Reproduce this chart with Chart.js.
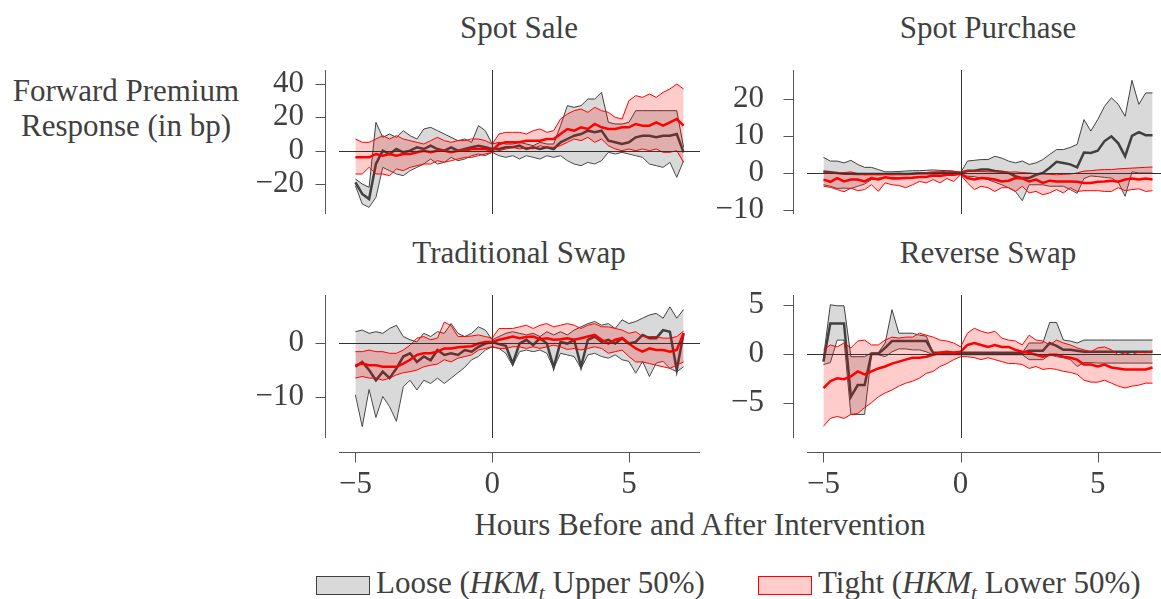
<!DOCTYPE html>
<html>
<head>
<meta charset="utf-8">
<script src="https://cdn.jsdelivr.net/npm/chart.js@4.4.1/dist/chart.umd.min.js"></script>
<style>
  body { margin: 0; width: 1161px; height: 599px; overflow: hidden; background: #fff;
         position: relative; font-family: "Liberation Serif", serif; color: #404040; }
  .txt { position: absolute; font-size: 31px; line-height: 31px; white-space: nowrap; }
  .ctr { text-align: center; }
  canvas { position: absolute; }
  .patch { position: absolute; width: 52px; height: 17px; }
  sub { font-size: 0.7em; line-height: 0; vertical-align: -0.3em; }
</style>
</head>
<body>

<div class="txt ctr" style="left:319px;top:12px;width:400px">Spot Sale</div>
<div class="txt ctr" style="left:788px;top:12px;width:400px">Spot Purchase</div>
<div class="txt ctr" style="left:319px;top:237px;width:400px">Traditional Swap</div>
<div class="txt ctr" style="left:788px;top:237px;width:400px">Reverse Swap</div>

<div class="txt ctr" style="left:0;top:75px;width:252px">Forward Premium</div>
<div class="txt ctr" style="left:0;top:110px;width:252px">Response (in bp)</div>

<div class="txt ctr" style="left:400px;top:509px;width:600px">Hours Before and After Intervention</div>

<div class="patch" style="left:316px;top:576px;background:#d9d9d9;border:1px solid #404040"></div>
<div class="txt" style="left:376px;top:567px">Loose (<i>HKM</i><sub><i>t</i></sub> Upper 50%)</div>
<div class="patch" style="left:758px;top:576px;background:#ffcccc;border:1px solid #ff0000"></div>
<div class="txt" style="left:818px;top:567px">Tight (<i>HKM</i><sub><i>t</i></sub> Lower 50%)</div>

<canvas id="saleChart" width="470" height="160" style="left:240px;top:60px"></canvas>
<canvas id="buyChart" width="480" height="160" style="left:700px;top:60px"></canvas>
<canvas id="tradChart" width="470" height="215" style="left:240px;top:285px"></canvas>
<canvas id="revChart" width="480" height="215" style="left:700px;top:285px"></canvas>

<script>
// ------------------- DATA -------------------
const hours = [-5,-4.75,-4.5,-4.25,-4,-3.75,-3.5,-3.25,-3,-2.75,-2.5,-2.25,-2,-1.75,-1.5,-1.25,-1,-0.75,-0.5,-0.25,
  0,0.25,0.5,0.75,1,1.25,1.5,1.75,2,2.25,2.5,2.75,3,3.25,3.5,3.75,4,4.25,4.5,4.75,5,5.25,5.5,5.75,6,6.25,6.5,6.75,7];
const xTicks = [-5, 0, 5];

// Spot Sale
const saleLoose   = [-19,-26,-29,-8,0,-2,1,-1,0,2,1,3,1,0,2,0,1,2,3,2, 1,
  1,2,2,3,1,2,1,2,1,5,7,9,10,12,11,12,6,5,4,5,8,9,9,8,9,9,10,-1];
const saleLooseUp = [-17,-20,-22,17,8,10,8,12,9,7,13,14,12,10,8,6,7,5,15,12, 4,
  5,4,4,5,4,3,5,4,4,15,27,26,27,31,31,35,17,16,16,17,24,24,24,24,24,24,24,2];
const saleLooseLo = [-21,-32,-34,-28,-10,-12,-14,-15,-12,-10,-8,-5,-8,-7,-4,-6,-5,-3,-2,-3, -1,
  -3,-4,-3,-5,-3,-4,-5,-3,-4,-3,-6,-8,-9,-7,-8,-6,-1,-2,-1,-2,-3,-4,-8,-9,-10,-7,-16,-6];
const saleTight   = [-4,-4,-4,-2,-3,-2,-3,-2,-2,-1,0,-1,0,0,-1,0,0,1,1,1, 0,
  4,5,5,5,6,6,6,7,7,10,13,12,14,13,16,14,13,13,14,14,16,15,15,17,15,17,19,15];
const saleTightUp = [7,5,5,7,9,7,9,7,6,5,4,6,8,6,5,6,6,7,7,6, 4,
  10,11,11,11,10,12,13,11,12,19,22,24,25,23,26,24,23,20,19,30,33,32,34,32,35,37,40,37];
const saleTightLo = [-14,-14,-10,-14,-14,-15,-11,-12,-10,-9,-8,-8,-6,-7,-6,-5,-4,-4,-3,-2, -1,
  0,1,2,1,2,1,3,2,2,3,5,7,6,8,5,7,3,1,0,1,0,1,0,1,-1,-1,0,-7];
const saleTicks = [-20, 0, 20, 40];

// Spot Purchase
const buyLoose   = [0.4,0.2,0,-0.2,-0.2,-0.3,-0.3,-0.3,-0.3,-0.3,-0.3,-0.2,-0.3,-0.2,-0.1,-0.1,-0.1,0,0,0, 0,
  0.6,0.6,0.9,0.9,0.5,0.3,0,-0.9,-1.4,-1.4,-0.5,0,1.4,3,2.7,2.3,1.5,5.5,5.4,6,8.6,9.9,8,4.5,10,11,10.2,10.2];
const buyLooseUp = [4.2,3.2,3.2,2.7,3.4,2.3,1.5,1.5,0.9,0.3,0.3,0.4,0.5,0.6,0.6,0.7,0.8,0.7,0.6,0.5, 0,
  3.2,3.4,3.6,3.6,4.5,4,3.2,2.7,3.2,2.3,2.7,3.6,5,6.3,6.3,6.9,7.7,14.4,11.3,14.4,18,20.3,18.5,15.3,25,18.5,21.6,21.6];
const buyLooseLo = [-3.2,-3.6,-4.2,-4.1,-4.2,-3.6,-3,-1.8,-1.4,-1.2,-1.2,-1.3,-1.4,-1.2,-1.2,-1,-0.9,-0.8,-0.6,-0.4, -0.3,
  -0.9,-1,-1.4,-1.8,-2.5,-3.2,-4,-5,-7.5,-3.2,-3.2,-3.2,-3.6,-3.6,-3.6,-4.5,-5.5,-1.5,-0.8,-1,-1.2,-1.4,-2.5,-6.3,0.3,0,0,0];
const buyTight   = [-1.8,-2.4,-1.4,-2.3,-1.8,-1.8,-2.3,-1.4,-1.8,-1.2,-1.5,-1.5,-1.4,-1.3,-1.1,-1.1,-0.7,-0.8,-0.5,-0.5, -0.2,
  -1.4,-1.8,-1.4,-1.5,-1.8,-2.3,-2.1,-1.4,-1.5,-2.3,-1.8,-2.7,-2.1,-2.3,-2.3,-2.3,-2.4,-2.7,-2.7,-2.4,-2.3,-2.1,-2.4,-1.8,-1.5,-1.8,-1.5,-1.8];
const buyTightUp = [0.3,0.1,0,0.1,0.3,-0.2,-0.5,-0.4,-0.5,-0.4,-0.5,-0.3,-0.3,-0.1,0,0.1,0.3,0.3,0.5,0.4, 0.3,
  0.6,0.5,0.4,0.3,0.3,0.3,0.2,0.3,0.1,0,-0.2,-0.3,-0.4,-0.5,-0.4,-0.3,0,0.5,0.6,0.8,0.9,0.9,1.1,1.2,1.3,1.4,1.5,1.6];
const buyTightLo = [-3.6,-3.9,-4.5,-5.1,-4.1,-4.8,-4.5,-3.2,-5,-2.7,-3.2,-3.4,-4,-3.2,-2.3,-2.7,-1.8,-2.7,-1.5,-2.3, -0.5,
  -2.7,-4.5,-3.6,-4,-5,-4,-4,-5,-3.6,-5.4,-5,-5.9,-5.4,-4.5,-5.4,-4,-5,-4.8,-4.8,-4.8,-5,-5,-4,-4.8,-4.5,-4.3,-5,-4.8];
const buyTicks = [-10, 0, 10, 20];

// Traditional Swap
const tradLoose   = [-4.4,-3.5,-5,-6.9,-5.3,-6.5,-4.7,-2.5,-1.9,-3.5,-2.5,-3.2,-1.3,-2.2,-1.9,-2.2,-1.3,-1.6,-0.7,-0.1, 0.2,
  -0.2,-0.5,-3.8,-0.1,0.6,-0.4,0.9,-0.1,-4.5,0.2,-0.1,0.6,-4.4,0.6,1.2,0.2,0.6,-0.1,0.9,-0.1,0.2,1.5,0.9,0.9,2.4,2.1,-5,1.8];
const tradLooseUp = [2.1,2.4,1.8,2.1,1.8,2.7,3.3,1.2,0.6,0.2,1.8,1.2,2.1,1.8,3.6,1.8,1.2,1.8,3,2.4, 0.6,
  1.2,1.8,2.1,1.8,1.5,1.8,1.2,2.1,1.5,2.1,1.5,2.4,3,3.6,4,3.3,3.6,2.7,4.3,3.6,4,4.6,5.2,5.5,4.6,6.7,4.6,6.2];
const tradLooseLo = [-9.6,-15.5,-8.6,-13.8,-9.9,-11.8,-14.5,-8.1,-6.9,-8.7,-6.9,-7.5,-6.5,-7.5,-6.5,-5.5,-4.5,-3.1,-2.5,-1.3, -0.7,
  -1,-1.9,-4.2,-1.6,-1.3,-1.6,-1.3,-1.9,-4.7,-1.9,-2.2,-2.5,-4.7,-2.2,-1.9,-2.5,-2.8,-2.2,-3.1,-3.4,-5.6,-3.4,-6.2,-3.7,-3.4,-4.7,-5.3,-4.4];
const tradTight   = [-4.1,-3.8,-4.1,-4.1,-4.4,-4.4,-4.4,-3.8,-3.1,-2.2,-1.9,-1.9,-1.6,-1,-1,-0.8,-0.7,-0.6,-0.1,0.2, 0.2,
  0.6,0.9,1.2,0.9,1.1,1.2,0.7,0.9,0.6,0.7,0.9,0.6,0.9,1.2,1.5,0.6,-0.1,0.6,0.9,-0.1,-1,-1.6,-1,-1.3,-1.3,-1.6,-1.3,1.8];
const tradTightUp = [-1.6,-1.6,-1.3,-1.6,-1.6,-1.9,-1.9,-1.3,-0.4,0.9,1.2,0.6,0.9,3.9,3.2,1.2,1.2,1.3,1.5,1.2, 0.9,
  2.7,2.7,2.7,3,3.3,2.7,3.3,3.6,3,3.3,3.6,3.3,2.7,3.3,3.6,3,3,2.7,2.4,1.8,2.1,1.2,1.2,1.2,0.9,0.9,1.2,2.2];
const tradTightLo = [-6.5,-6.2,-6.5,-6.5,-6.9,-6.5,-5.9,-5.5,-5.3,-5,-4.4,-4.1,-3.9,-3.1,-3.5,-2.8,-2.5,-2.2,-1.3,-1, -0.7,
  -1,-1,-0.7,-0.7,-1,-0.7,-1,-0.7,-0.4,-0.7,-1.2,-1,-1.3,-1,-0.7,-1,-1.9,-1.6,-1.3,-2.5,-3.5,-3.5,-3.8,-4.1,-4.4,-4.7,-4.1,-3.5];
const tradTicks = [-10, 0];

// Reverse Swap
const revLoose   = [-0.8,3.1,3.1,3.1,-4.4,-3.2,-3.2,0,0,0.6,1.3,1.3,1.3,1.3,1.3,1.3,0.1,0.1,0.1,0.1, 0.1,
  0.1,0.1,0.1,0.1,0.1,0.1,0.1,0.1,0.1,0.3,0.3,0.3,1.1,0.8,0.4,0.4,0.3,0.2,0.2,0.2,0.2,0.2,0.2,0.2,0.2,0.2,0.2,0.2];
const revLooseUp = [-0.4,5,4.9,4.9,-0.3,-0.3,-0.3,0.1,0.1,1.1,4.5,2.1,2.1,2.1,1.9,1.8,0.1,0.1,0.1,0.1, 0.1,
  0.1,0.1,0.1,0.1,0.1,0.1,0.1,0.1,0.1,1.1,1.1,1.1,3.2,3.2,1.4,1.3,1.1,1.4,1.4,1.4,1.4,1.4,1.4,1.4,1.4,1.4,1.4,1.4];
const revLooseLo = [-1.1,-0.9,1.4,1.4,-6.2,-6.2,-6.2,-0.1,-0.1,-0.3,0.2,0.5,0.5,0.4,0.4,0.2,-0.1,-0.1,-0.1,-0.1, -0.1,
  -0.1,-0.1,-0.1,-0.1,-0.1,-0.1,-0.1,-0.1,-0.1,-0.6,-0.6,-0.6,-0.1,-0.3,-0.4,-0.6,-1.3,-0.9,-0.9,-0.95,-0.95,-0.95,-0.95,-0.95,-0.95,-0.95,-0.95,-0.95];
const revTight   = [-3.5,-2.8,-2.5,-2.6,-2.3,-1.8,-2.1,-1.8,-1.5,-1.3,-1,-0.8,-0.6,-0.4,-0.4,-0.3,-0.1,0.1,0.2,0.1, 0.2,
  0.9,1.1,0.9,0.7,0.9,0.7,0.7,0.4,0.2,0.1,-0.1,-0.3,-0.1,-0.1,-0.3,-0.4,-0.6,-1.1,-1.1,-1.3,-1.1,-1.4,-1.5,-1.6,-1.6,-1.6,-1.6,-1.4];
const revTightUp = [0.4,0.9,0.7,1.1,0.6,1.3,1.4,0.9,0.9,1.4,1.7,1.6,1.7,1.7,2.1,1.9,1.7,1.4,1.3,1.1, 0.7,
  2.1,2.6,2.3,2.1,2.3,1.6,1.4,1.3,0.9,1.9,1.4,1.3,0.9,1.4,1.1,0.9,0.6,0.4,0.2,0.6,0.7,0.4,-0.1,0.1,-0.1,0.2,0.1,0.3];
const revTightLo = [-7.4,-6.6,-6.4,-6.6,-6.2,-6.1,-5.5,-5,-4.4,-4,-3.7,-3.3,-3,-2.8,-2.5,-2,-1.8,-1.3,-1,-0.6, -0.3,
  -0.3,-0.4,-0.6,-0.4,-0.6,-0.8,-1,-1,-1.1,-1.5,-1.3,-1.6,-1.5,-1.6,-1.8,-1.9,-2.1,-2.7,-2.9,-2.9,-2.7,-3,-3.3,-3.5,-3.3,-3.2,-3,-3];
const revTicks = [-5, 0, 5];

// ------------------- STYLE -------------------
const TEXT = "#404040";
const FONT = { family: "Liberation Serif", size: 31 };
const GREY_LINE = "#404040";
const GREY_FILL = "rgba(128,128,128,0.3)";
const RED = "#ff0000";
const RED_FILL = "rgba(255,0,0,0.2)";

const fmt = v => (v < 0 ? "\u2212" + Math.abs(v) : String(v));
const pts = arr => hours.map((h, i) => ({ x: h, y: arr[i] }));
const noPad = sc => { sc.paddingTop = 0; sc.paddingBottom = 0; sc.paddingLeft = 0; sc.paddingRight = 0; };

// offset spines (seaborn style) + zero lines
const spines = {
  id: "spines",
  afterDatasetsDraw(chart, args, opts) {
    const { ctx, chartArea: a, scales: { x, y } } = chart;
    ctx.save();
    ctx.lineWidth = 1;
    ctx.strokeStyle = "#333";
    const y0 = Math.round(y.getPixelForValue(0)) + 0.5;
    const x0 = Math.round(x.getPixelForValue(0)) + 0.5;
    ctx.beginPath();
    ctx.moveTo(a.left, y0); ctx.lineTo(a.right, y0);
    ctx.moveTo(x0, a.top); ctx.lineTo(x0, a.bottom);
    ctx.stroke();

    ctx.strokeStyle = "#555";
    ctx.beginPath();
    const sx = a.left - 14 + 0.5;
    ctx.moveTo(sx, a.top); ctx.lineTo(sx, a.bottom);
    y.ticks.forEach(t => {
      const p = Math.round(y.getPixelForValue(t.value)) + 0.5;
      ctx.moveTo(sx, p); ctx.lineTo(sx - 10, p);
    });
    if (opts.xAxis) {
      const sy = a.bottom + 14 + 0.5;
      ctx.moveTo(a.left, sy); ctx.lineTo(a.right, sy);
      x.ticks.forEach(t => {
        const p = Math.round(x.getPixelForValue(t.value)) + 0.5;
        ctx.moveTo(p, sy); ctx.lineTo(p, sy + 10);
      });
    }
    ctx.stroke();
    ctx.restore();
  }
};

function makePanel(id, s, yMin, yMax, yTicks, yWidth, yPad, showX, pad) {
  new Chart(document.getElementById(id), {
    type: "line",
    data: {
      datasets: [
        { data: pts(s.tight), borderColor: RED, borderWidth: 2.5, fill: false, order: 0 },
        { data: pts(s.tightUp), borderColor: RED, borderWidth: 1, backgroundColor: RED_FILL, fill: "+1", order: 1 },
        { data: pts(s.tightLo), borderColor: RED, borderWidth: 1, fill: false, order: 1 },
        { data: pts(s.loose), borderColor: GREY_LINE, borderWidth: 2.5, fill: false, order: 2 },
        { data: pts(s.looseUp), borderColor: GREY_LINE, borderWidth: 1, backgroundColor: GREY_FILL, fill: "+1", order: 3 },
        { data: pts(s.looseLo), borderColor: GREY_LINE, borderWidth: 1, fill: false, order: 3 }
      ]
    },
    options: {
      responsive: false,
      animation: false,
      layout: { padding: pad },
      elements: { point: { radius: 0 }, line: { tension: 0 } },
      plugins: { legend: { display: false }, tooltip: { enabled: false }, spines: { xAxis: showX } },
      scales: {
        x: {
          type: "linear", min: -5.6, max: 7.6, display: showX,
          grid: { display: false, drawTicks: false }, border: { display: false },
          ticks: { color: TEXT, font: FONT, padding: 28, callback: fmt, maxRotation: 0, autoSkip: false },
          afterBuildTicks: sc => { sc.ticks = xTicks.map(v => ({ value: v })); },
          afterFit: sc => { sc.height = showX ? 62 : 0; noPad(sc); }
        },
        y: {
          min: yMin, max: yMax,
          grid: { display: false, drawTicks: false }, border: { display: false },
          ticks: { color: TEXT, font: FONT, padding: yPad, callback: fmt, autoSkip: false },
          afterBuildTicks: sc => { sc.ticks = yTicks.map(v => ({ value: v })); },
          afterFit: sc => { sc.width = yWidth; noPad(sc); }
        }
      }
    },
    plugins: [spines]
  });
}

makePanel("saleChart",
  { loose: saleLoose, looseUp: saleLooseUp, looseLo: saleLooseLo, tight: saleTight, tightUp: saleTightUp, tightLo: saleTightLo },
  -38, 48.4, saleTicks, 99, 35, false, { top: 10, right: 10, bottom: 6, left: 0 });

makePanel("buyChart",
  { loose: buyLoose, looseUp: buyLooseUp, looseLo: buyLooseLo, tight: buyTight, tightUp: buyTightUp, tightLo: buyTightLo },
  -11.1, 27.8, buyTicks, 107, 43, false, { top: 10, right: 11, bottom: 6, left: 0 });

makePanel("tradChart",
  { loose: tradLoose, looseUp: tradLooseUp, looseLo: tradLooseLo, tight: tradTight, tightUp: tradTightUp, tightLo: tradTightLo },
  -17.6, 8.9, tradTicks, 99, 35, true, { top: 10, right: 10, bottom: 0, left: 0 });

makePanel("revChart",
  { loose: revLoose, looseUp: revLooseUp, looseLo: revLooseLo, tight: revTight, tightUp: revTightUp, tightLo: revTightLo },
  -8.6, 6.0, revTicks, 107, 43, true, { top: 10, right: 11, bottom: 0, left: 0 });
</script>
</body>
</html>
